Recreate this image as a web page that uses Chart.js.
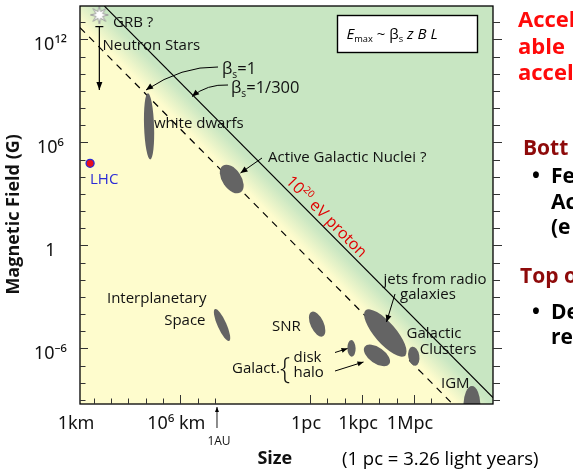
<!DOCTYPE html>
<html>
<head>
<meta charset="utf-8">
<script src="https://cdn.jsdelivr.net/npm/chart.js@4.4.1/dist/chart.umd.min.js"></script>
<style>
  html, body { margin: 0; padding: 0; background: #fff; }
  #wrap { width: 573px; height: 470px; }
</style>
</head>
<body>
<div id="wrap"><canvas id="hillasChart" width="573" height="470"></canvas></div>
<script>
// Hillas plot: size (km) vs magnetic field (G)
const PC_KM = 3.086e13;
const AU_KM = 1.496e8;

// axis range
const sizeMin = 1.62, sizeMax = 1.12e24;
const fieldMin = 5.75e-10, fieldMax = 8.9e13;

// limit lines for a 10^20 eV proton
const beta1Size = [1.62, 5.2e21];
const beta1Field = [4.9e12, 5.75e-10];
const beta300Size = [41.7, 1.12e24];
const beta300Field = [8.7e13, 1.35e-9];

// source regions: centre, spread along long / short axis (decades), tilt (deg)
const srcNames = ['white dwarfs', 'AGN', 'interplanetary space', 'SNR', 'galactic disk',
  'galactic halo', 'radio galaxy jets', 'galactic clusters', 'IGM'];
const srcSize = [1.57e4, 9.3e8, 2.57e8, 7.9e13, 7.6e15, 2.24e17, 6.8e17, 3.0e19, 6.8e22];
const srcField = [8.7e6, 7.4e3, 2.3e-5, 2.6e-5, 1.0e-6, 3.9e-7, 7.9e-6, 3.5e-7, 5.0e-10];
const srcLong = [1.92, 0.93, 1.01, 0.78, 0.48, 0.87, 1.74, 0.56, 1.10];
const srcShort = [0.29, 0.55, 0.26, 0.38, 0.24, 0.46, 0.61, 0.32, 0.49];
const srcTilt = [88, 56, 66, 65, 88, 35, 49, 80, 90];

const lhcSize = [6.2], lhcField = [6.1e4];
const grbSize = [21.2], grbField = [2.7e13];
const nsSize = [21.2, 21.2], nsField = [5.6e12, 1.15e9];

// ticks
const kmTicks = [10, 100, 1e3, 1e4, 1e5, 1e6, 1e7, 1e8];
const pcTicks = [1, 10, 100, 1e3, 1e4, 1e5, 1e6, 1e7];
const sizeLabelValues = [sizeMin, 1e6, PC_KM, 1e3 * PC_KM, 1e6 * PC_KM];
const sizeLabels = ['1km', '10⁶ km', '1pc', '1kpc', '1Mpc'];
const fieldTicks = [1e-9, 1e-8, 1e-7, 1e-6, 1e-5, 1e-4, 1e-3, 1e-2, 1e-1, 1, 10, 100, 1e3,
  1e4, 1e5, 1e6, 1e7, 1e8, 1e9, 1e10, 1e11, 1e12, 1e13];
const fieldLabelValues = [1e12, 1e6, 1, 1e-6];
const fieldLabels = ['10¹²', '10⁶', '1', '10⁻⁶'];

const YELLOW = '#fefccd';
const GREEN = '#c8e6c2';
const SANS = "'Open Sans', 'Noto Sans', sans-serif";

function pick(values, labels, v) {
  const i = values.findIndex(w => Math.abs(Math.log10(w / v)) < 1e-6);
  return i < 0 ? '' : labels[i];
}

function xy(arrX, arrY) {
  return arrX.map((v, i) => ({ x: v, y: arrY[i] }));
}

// text with sub / superscripts
function rich(ctx, x, y, parts, size, color, align) {
  const fontOf = p => {
    const s = (p.sub || p.sup) ? size * 0.62 : size;
    return (p.it ? 'italic ' : '') + (p.bold ? 'bold ' : '') + (p.light ? '300 ' : '') + s + 'px ' + (p.fam || SANS);
  };
  let w = 0;
  parts.forEach(p => { ctx.font = fontOf(p); w += ctx.measureText(p.t).width; });
  let cx = align === 'center' ? x - w / 2 : align === 'right' ? x - w : x;
  ctx.fillStyle = color;
  ctx.textAlign = 'left';
  ctx.textBaseline = 'alphabetic';
  parts.forEach(p => {
    ctx.font = fontOf(p);
    const dy = p.sub ? size * 0.22 : p.sup ? -size * 0.42 : 0;
    ctx.fillText(p.t, cx, y + dy);
    cx += ctx.measureText(p.t).width;
  });
}

function arrow(ctx, x0, y0, x1, y1, cx, cy, head) {
  const L = head ? head[0] : 7, W = head ? head[1] : 3;
  ctx.beginPath();
  ctx.moveTo(x0, y0);
  if (cx !== undefined) ctx.quadraticCurveTo(cx, cy, x1, y1);
  else ctx.lineTo(x1, y1);
  ctx.stroke();
  const fx = cx !== undefined ? cx : x0, fy = cy !== undefined ? cy : y0;
  const a = Math.atan2(y1 - fy, x1 - fx);
  ctx.beginPath();
  ctx.moveTo(x1, y1);
  ctx.lineTo(x1 - L * Math.cos(a) + W * Math.sin(a), y1 - L * Math.sin(a) - W * Math.cos(a));
  ctx.lineTo(x1 - L * Math.cos(a) - W * Math.sin(a), y1 - L * Math.sin(a) + W * Math.cos(a));
  ctx.closePath();
  ctx.fill();
}

function makeStar() {
  const c = document.createElement('canvas');
  c.width = c.height = 22;
  const g = c.getContext('2d');
  g.beginPath();
  for (let i = 0; i < 16; i++) {
    const r = i % 2 ? 3.6 : 9;
    const a = Math.PI * i / 8 - Math.PI / 2;
    g.lineTo(11 + r * Math.cos(a), 11 + r * Math.sin(a));
  }
  g.closePath();
  g.fillStyle = '#fff';
  g.fill();
  g.strokeStyle = '#9a9a9a';
  g.lineWidth = 1;
  g.stroke();
  return c;
}

// yellow -> green band between the two limit lines
const backgroundPlugin = {
  id: 'background',
  beforeDatasetsDraw(chart) {
    const { ctx, chartArea: a, scales: { x, y } } = chart;
    const ax = x.getPixelForValue(beta1Size[0]), ay = y.getPixelForValue(beta1Field[0]);
    const bx = x.getPixelForValue(beta1Size[1]), by = y.getPixelForValue(beta1Field[1]);
    const cx = x.getPixelForValue(beta300Size[0]), cy = y.getPixelForValue(beta300Field[0]);
    const len = Math.hypot(bx - ax, by - ay);
    const nx = (by - ay) / len, ny = -(bx - ax) / len;
    const dist = (cx - ax) * nx + (cy - ay) * ny;
    const grad = ctx.createLinearGradient(ax, ay, ax + nx * dist, ay + ny * dist);
    grad.addColorStop(0.12, YELLOW);
    grad.addColorStop(0.85, GREEN);
    ctx.save();
    ctx.fillStyle = grad;
    ctx.fillRect(a.left, a.top, a.width, a.height);
    ctx.restore();
  }
};

// grey ellipses for the sources
const sourcesPlugin = {
  id: 'sources',
  afterDatasetsDraw(chart) {
    const { ctx, chartArea: a, scales: { x, y } } = chart;
    const dec = (x.getPixelForValue(10) - x.getPixelForValue(1) + y.getPixelForValue(1) - y.getPixelForValue(10)) / 2;
    ctx.save();
    ctx.beginPath();
    ctx.rect(a.left, a.top, a.width, a.height);
    ctx.clip();
    ctx.fillStyle = '#646464';
    srcSize.forEach((s, i) => {
      ctx.beginPath();
      ctx.ellipse(x.getPixelForValue(s), y.getPixelForValue(srcField[i]),
        srcLong[i] * dec, srcShort[i] * dec, srcTilt[i] * Math.PI / 180, 0, 2 * Math.PI);
      ctx.fill();
    });

    // neutron star range: bar on top, arrow head at the bottom
    const nx = x.getPixelForValue(nsSize[0]);
    const top = y.getPixelForValue(nsField[0]), bot = y.getPixelForValue(nsField[1]);
    ctx.strokeStyle = '#000';
    ctx.fillStyle = '#000';
    ctx.lineWidth = 1.2;
    ctx.beginPath();
    ctx.moveTo(nx - 4, top);
    ctx.lineTo(nx + 4, top);
    ctx.stroke();
    ctx.beginPath();
    ctx.moveTo(nx, bot);
    ctx.lineTo(nx - 3, bot - 8);
    ctx.lineTo(nx + 3, bot - 8);
    ctx.closePath();
    ctx.fill();
    ctx.restore();
  }
};

// labels and pointers inside the plot
const notesPlugin = {
  id: 'notes',
  afterDatasetsDraw(chart) {
    const { ctx } = chart;
    ctx.save();
    const K = '#111';
    const t = s => [{ t: s }];
    rich(ctx, 113, 26.5, t('GRB ?'), 15, K);
    rich(ctx, 102.5, 50, t('Neutron Stars'), 15, K);
    rich(ctx, 222, 74, [{ t: 'β' }, { t: 's', sub: true }, { t: '=1' }], 16.5, K);
    rich(ctx, 231, 93, [{ t: 'β' }, { t: 's', sub: true }, { t: '=1/300' }], 16.5, K);
    rich(ctx, 154, 128, t('white dwarfs'), 15, K);
    rich(ctx, 268, 161.5, t('Active Galactic Nuclei ?'), 15, K);
    rich(ctx, 435, 284, t('jets from radio'), 15, K, 'center');
    rich(ctx, 428, 298.5, t('galaxies'), 15, K, 'center');
    rich(ctx, 434, 337.5, t('Galactic'), 15, K, 'center');
    rich(ctx, 448, 354, t('Clusters'), 15, K, 'center');
    rich(ctx, 441, 387.5, t('IGM'), 15, K);
    rich(ctx, 272, 330.5, t('SNR'), 15, K);
    rich(ctx, 206.5, 302.5, t('Interplanetary'), 15, K, 'right');
    rich(ctx, 205.5, 324.5, t('Space'), 15, K, 'right');
    rich(ctx, 232, 373, t('Galact.'), 15, K);
    rich(ctx, 280, 377.5, [{ t: '{', light: true }], 29, K);
    rich(ctx, 293.5, 361.5, t('disk'), 15, K);
    rich(ctx, 293.5, 376.5, t('halo'), 15, K);
    rich(ctx, 90, 183.5, t('LHC'), 15, '#2b2bd6');

    // 10^20 eV proton, along the solid line
    ctx.save();
    ctx.translate(285, 182);
    ctx.rotate(Math.atan2(1.007, 1));
    rich(ctx, 0, 0, [{ t: '10' }, { t: '20', sup: true }, { t: ' eV proton' }], 16, '#e00000');
    ctx.restore();

    // pointers
    ctx.strokeStyle = '#000';
    ctx.fillStyle = '#000';
    ctx.lineWidth = 1;
    arrow(ctx, 218, 67, 146, 90, 182, 66);
    arrow(ctx, 228, 85, 192, 96.5, 207, 84);
    arrow(ctx, 262, 158, 240.5, 173);
    arrow(ctx, 395, 294, 386.5, 322);
    arrow(ctx, 335, 352.5, 347.5, 348.5, undefined, undefined, [6, 2.5]);
    arrow(ctx, 335, 371, 363.5, 362, undefined, undefined, [6, 2.5]);

    // formula box
    ctx.fillStyle = '#fff';
    ctx.fillRect(337.5, 15.5, 140, 37);
    ctx.lineWidth = 1.4;
    ctx.strokeRect(337.5, 15.5, 140, 37);
    rich(ctx, 346.5, 38.5, [{ t: 'E', it: true }, { t: 'max', sub: true }, { t: ' ~ ' },
      { t: 'β' }, { t: 's', sub: true }, { t: ' ' }, { t: 'z', it: true }, { t: ' ' },
      { t: 'B', it: true }, { t: ' ' }, { t: 'L', it: true }], 15, '#000');
    ctx.restore();
  }
};

// frame and inward tick marks
const framePlugin = {
  id: 'frame',
  afterDatasetsDraw(chart) {
    const { ctx, chartArea: a, scales: { x, y } } = chart;
    ctx.save();
    ctx.strokeStyle = '#000';
    ctx.lineWidth = 1.3;
    ctx.strokeRect(a.left, a.top, a.width, a.height);
    ctx.lineWidth = 1;
    ctx.strokeStyle = '#333';
    ctx.beginPath();
    x.ticks.forEach(tk => {
      const px = Math.round(x.getPixelForValue(tk.value)) + 0.5;
      if (px <= a.left + 1 || px >= a.right - 1) return;
      const len = pick(sizeLabelValues, sizeLabels, tk.value) ? 9 : 5.5;
      ctx.moveTo(px, a.bottom);
      ctx.lineTo(px, a.bottom - len);
    });
    y.ticks.forEach(tk => {
      const py = Math.round(y.getPixelForValue(tk.value)) + 0.5;
      const major = pick(fieldLabelValues, fieldLabels, tk.value) !== '';
      ctx.moveTo(a.left, py);
      ctx.lineTo(a.left + (major ? 8 : 5.5), py);
      ctx.moveTo(a.right, py);
      ctx.lineTo(a.right + (major ? 9 : 7), py);
    });
    ctx.stroke();
    ctx.restore();
  }
};

// texts outside the plot (1AU marker, note and the cut-off slide text)
const outsidePlugin = {
  id: 'outside',
  afterDraw(chart) {
    const { ctx, chartArea: a, scales: { x } } = chart;
    ctx.save();
    const au = x.getPixelForValue(AU_KM);
    ctx.strokeStyle = '#000';
    ctx.fillStyle = '#000';
    ctx.lineWidth = 0.9;
    arrow(ctx, au - 1, 428, au - 1, a.bottom + 3, undefined, undefined, [5, 2]);
    rich(ctx, au + 1, 444.5, [{ t: '1AU' }], 12, '#111', 'center');
    rich(ctx, 342, 465, [{ t: '(1 pc = 3.26 light years)' }], 18.5, '#000');

    const red = '#ff0a0a', dark = '#8e0a0a';
    const b = s => [{ t: s, bold: true }];
    rich(ctx, 518, 27, b('Accel'), 22, red);
    rich(ctx, 518, 53.5, b('able'), 22, red);
    rich(ctx, 518, 80, b('accel'), 22, red);
    rich(ctx, 523, 155, b('Bott'), 21, dark);
    rich(ctx, 532, 183, b('•'), 21, '#000');
    rich(ctx, 551, 183, b('Fe'), 21, '#000');
    rich(ctx, 551, 208.5, b('Ac'), 21, '#000');
    rich(ctx, 551, 234, b('(e'), 21, '#000');
    rich(ctx, 520, 283, b('Top o'), 21, dark);
    rich(ctx, 532, 319, b('•'), 21, '#000');
    rich(ctx, 551, 319, b('De'), 21, '#000');
    rich(ctx, 551, 344, b('re'), 21, '#000');
    ctx.restore();
  }
};

const xTickValues = kmTicks.concat(pcTicks.map(v => v * PC_KM));
xTickValues.unshift(sizeMin);

const tickFont = { family: "'Noto Sans', 'DejaVu Sans', sans-serif", size: 18 };

new Chart(document.getElementById('hillasChart'), {
  type: 'scatter',
  data: {
    datasets: [
      {
        label: 'beta_s = 1/300',
        data: xy(beta300Size, beta300Field),
        showLine: true, borderColor: '#000', borderWidth: 1.2, pointRadius: 0
      },
      {
        label: 'beta_s = 1',
        data: xy(beta1Size, beta1Field),
        showLine: true, borderColor: '#000', borderWidth: 1.2, borderDash: [7, 6], pointRadius: 0
      },
      {
        label: 'Neutron Stars',
        data: xy(nsSize, nsField),
        showLine: true, borderColor: '#000', borderWidth: 1.2, pointRadius: 0
      },
      {
        label: 'LHC',
        data: xy(lhcSize, lhcField),
        pointRadius: 4, backgroundColor: '#e8101a', borderColor: '#2b2bd6', borderWidth: 1.3
      },
      {
        label: 'GRB',
        data: xy(grbSize, grbField),
        pointStyle: makeStar(), clip: false
      }
    ]
  },
  options: {
    responsive: false,
    animation: false,
    devicePixelRatio: 1,
    layout: { padding: { top: 6, right: 80, bottom: 0, left: 0 } },
    plugins: { legend: { display: false }, tooltip: { enabled: false } },
    scales: {
      x: {
        type: 'logarithmic',
        position: 'bottom',
        min: sizeMin,
        max: sizeMax,
        bounds: 'data',
        afterBuildTicks: s => { s.ticks = xTickValues.map(v => ({ value: v })); },
        afterFit: s => { s.height = 66; s.paddingLeft = 0; s.paddingRight = 0; },
        grid: { display: false, drawTicks: false },
        border: { display: false },
        ticks: {
          autoSkip: false, maxRotation: 0, minRotation: 0, padding: 9, labelOffset: -4,
          color: '#111', font: tickFont,
          callback: v => pick(sizeLabelValues, sizeLabels, v)
        },
        title: {
          display: true, text: 'Size\u00a0\u00a0\u00a0\u00a0\u00a0', color: '#111',
          font: { family: SANS, size: 18, weight: 'bold' }, padding: { top: 0, bottom: 0 }
        }
      },
      y: {
        type: 'logarithmic',
        position: 'left',
        min: fieldMin,
        max: fieldMax,
        bounds: 'data',
        afterBuildTicks: s => { s.ticks = fieldTicks.map(v => ({ value: v })); },
        afterFit: s => { s.width = 80; s.paddingTop = 0; s.paddingBottom = 0; },
        grid: { display: false, drawTicks: false },
        border: { display: false },
        ticks: {
          autoSkip: false, crossAlign: 'center', padding: 13, labelOffset: 5,
          color: '#111', font: tickFont,
          callback: v => pick(fieldLabelValues, fieldLabels, v)
        },
        title: {
          display: true, text: 'Magnetic Field (G)\u00a0\u00a0\u00a0\u00a0', color: '#111',
          font: { family: SANS, size: 18, weight: 'bold' }, padding: { top: 3, bottom: 0 }
        }
      }
    }
  },
  plugins: [backgroundPlugin, sourcesPlugin, notesPlugin, framePlugin, outsidePlugin]
});
</script>
</body>
</html>
